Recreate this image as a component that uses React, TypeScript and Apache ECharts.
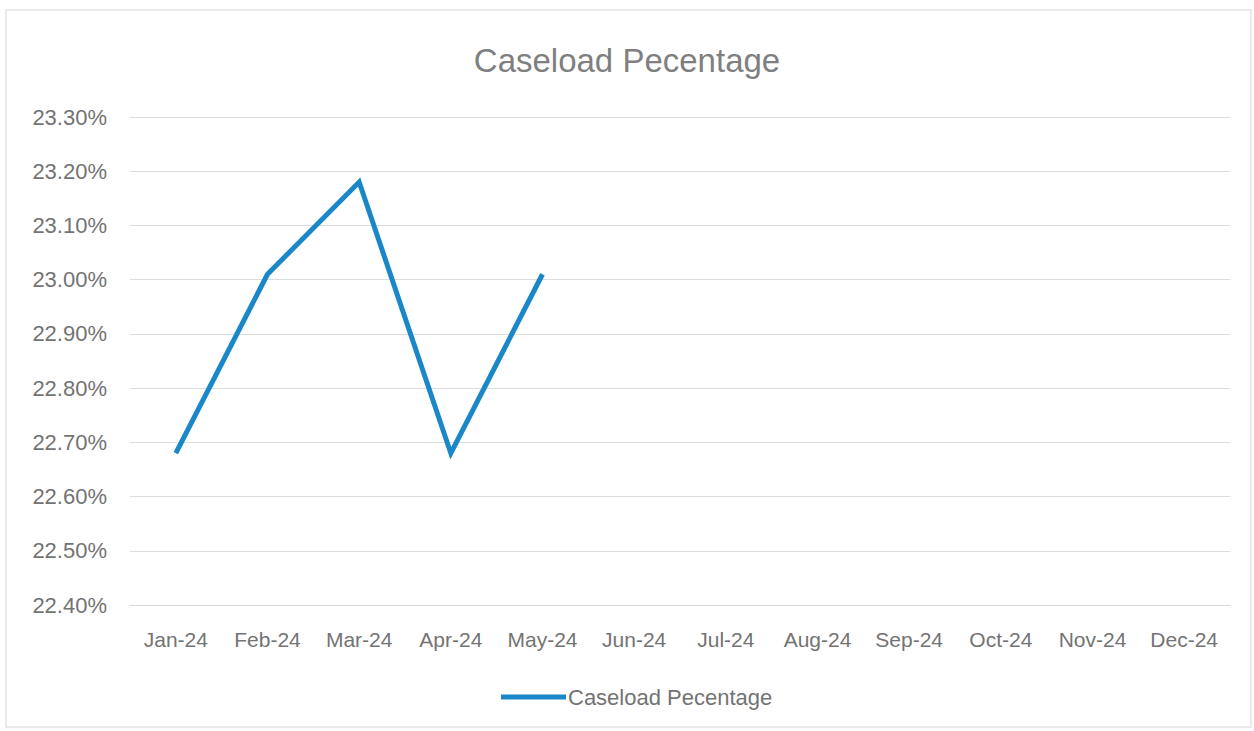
import React, { useEffect, useRef } from "react";
import * as echarts from "echarts";

const title = "Caseload Pecentage";
const seriesName = "Caseload Pecentage";
const months = ["Jan-24", "Feb-24", "Mar-24", "Apr-24", "May-24", "Jun-24", "Jul-24", "Aug-24", "Sep-24", "Oct-24", "Nov-24", "Dec-24"];
const caseloadPct: (number | null)[] = [22.68, 23.01, 23.18, 22.68, 23.01, null, null, null, null, null, null, null];
const yMin = 22.4;
const yMax = 23.3;
const yStep = 0.1;

const FONT = "Liberation Sans, Arial, sans-serif";
const TEXT = "#737373";

export default function App() {
  const ref = useRef<HTMLDivElement>(null);
  useEffect(() => {
    document.body.style.margin = "0";
    if (!ref.current) return;
    const chart = echarts.init(ref.current, undefined, { renderer: "svg" });
    chart.setOption({
      animation: false,
      backgroundColor: "#ffffff",
      title: {
        text: title,
        left: "center",
        top: 39,
        textStyle: { fontFamily: FONT, fontSize: 33, fontWeight: "normal", color: "#7f7f7f" },
      },
      grid: { left: 130, right: 24, top: 117, bottom: 126, containLabel: false },
      xAxis: {
        type: "category",
        data: months,
        boundaryGap: true,
        axisLine: { show: true, lineStyle: { color: "#d9d9d9", width: 1 } },
        axisTick: { show: false },
        axisLabel: { color: TEXT, fontFamily: FONT, fontSize: 21, margin: 24 },
      },
      yAxis: {
        type: "value",
        min: yMin,
        max: yMax,
        interval: yStep,
        axisLine: { show: false },
        axisTick: { show: false },
        splitLine: { lineStyle: { color: "#dcdcdc", width: 1 } },
        axisLabel: {
          color: TEXT,
          fontFamily: FONT,
          fontSize: 22,
          margin: 23,
          formatter: (v: number) => v.toFixed(2) + "%",
        },
      },
      legend: {
        top: 681,
        left: 496,
        icon: "rect",
        itemWidth: 65,
        itemHeight: 5,
        itemGap: 10,
        textStyle: { color: TEXT, fontFamily: FONT, fontSize: 22, padding: [0, 0, 0, -3] },
        data: [seriesName],
      },
      series: [
        {
          name: seriesName,
          type: "line",
          data: caseloadPct,
          showSymbol: false,
          symbol: "none",
          lineStyle: { color: "#1a87c8", width: 5, join: "miter" },
          itemStyle: { color: "#1a87c8" },
        },
      ],
      graphic: [
        {
          type: "rect",
          shape: { x: 6, y: 10, width: 1245, height: 717 },
          style: { fill: "none", stroke: "#e3e3e3", lineWidth: 1.5 },
          silent: true,
        },
      ],
    });
    return () => chart.dispose();
  }, []);
  return <div ref={ref} style={{ width: 1254, height: 731 }} />;
}
